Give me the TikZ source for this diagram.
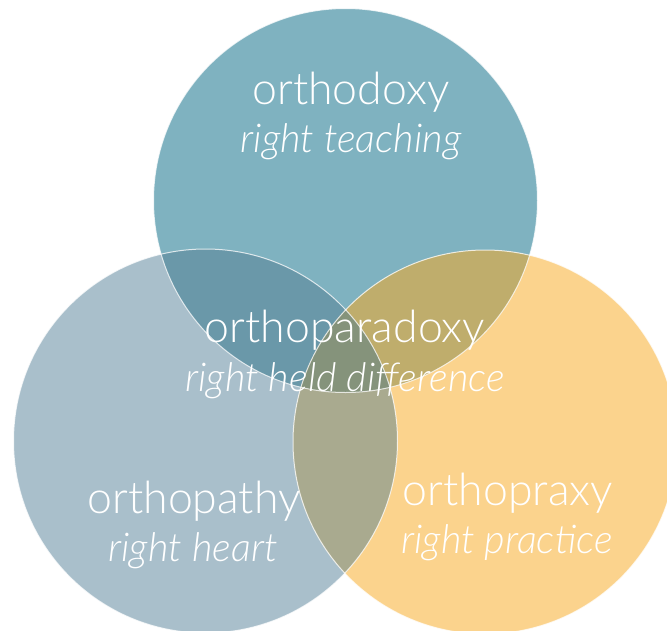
\documentclass[tikz,border=0pt]{standalone}
\usepackage{fontspec}
\setmainfont{Lato}[UprightFont={* Light},ItalicFont={* Light Italic}]
\begin{document}
\begin{tikzpicture}[x=1pt,y=-1pt,
  lbl/.style={text=white,anchor=base,inner sep=0pt,font=\fontsize{44.6}{44.6}\selectfont},
  sub/.style={text=white,anchor=base,inner sep=0pt,font=\fontsize{39.7}{39.7}\selectfont\itshape},
  rim/.style={draw=white,draw opacity=0.75,line width=1pt}]
\useasboundingbox (0,0) rectangle (667,630);
\coordinate (T) at (345.5,200.5);
\coordinate (L) at (205.5,441);
\coordinate (R) at (485,442);
\def\rr{192}
\fill[white] (0,0) rectangle (667,630);
\fill[color={rgb,255:red,127;green,178;blue,192}] (T) circle[radius=\rr];
\fill[color={rgb,255:red,169;green,191;blue,203}] (L) circle[radius=\rr];
\fill[color={rgb,255:red,251;green,211;blue,141}] (R) circle[radius=\rr];
\begin{scope}
  \clip (T) circle[radius=\rr];
  \fill[color={rgb,255:red,106;green,152;blue,169}] (L) circle[radius=\rr];
  \fill[color={rgb,255:red,191;green,173;blue,108}] (R) circle[radius=\rr];
\end{scope}
\begin{scope}
  \clip (L) circle[radius=\rr];
  \fill[color={rgb,255:red,169;green,170;blue,143}] (R) circle[radius=\rr];
  \clip (T) circle[radius=\rr];
  \fill[color={rgb,255:red,133;green,147;blue,123}] (R) circle[radius=\rr];
\end{scope}
\draw[rim] (T) circle[radius=\rr];
\draw[rim] (L) circle[radius=\rr];
\draw[rim] (R) circle[radius=\rr];
\node[lbl] (t1) at (351,104) {orthodoxy};
\node[sub] (t2) at (351,152) {right teaching};
\node[lbl] (c1) at (345,342) {orthoparadoxy};
\node[sub] (c2) at (345,391) {right held difference};
\node[lbl] (l1) at (194,513) {orthopathy};
\node[sub] (l2) at (193,561) {right heart};
\node[lbl] (r1) at (508,505) {orthopraxy};
\node[sub] (r2) at (507,553) {\addfontfeatures{Ligatures=Rare}right practice};
\end{tikzpicture}
\end{document}
